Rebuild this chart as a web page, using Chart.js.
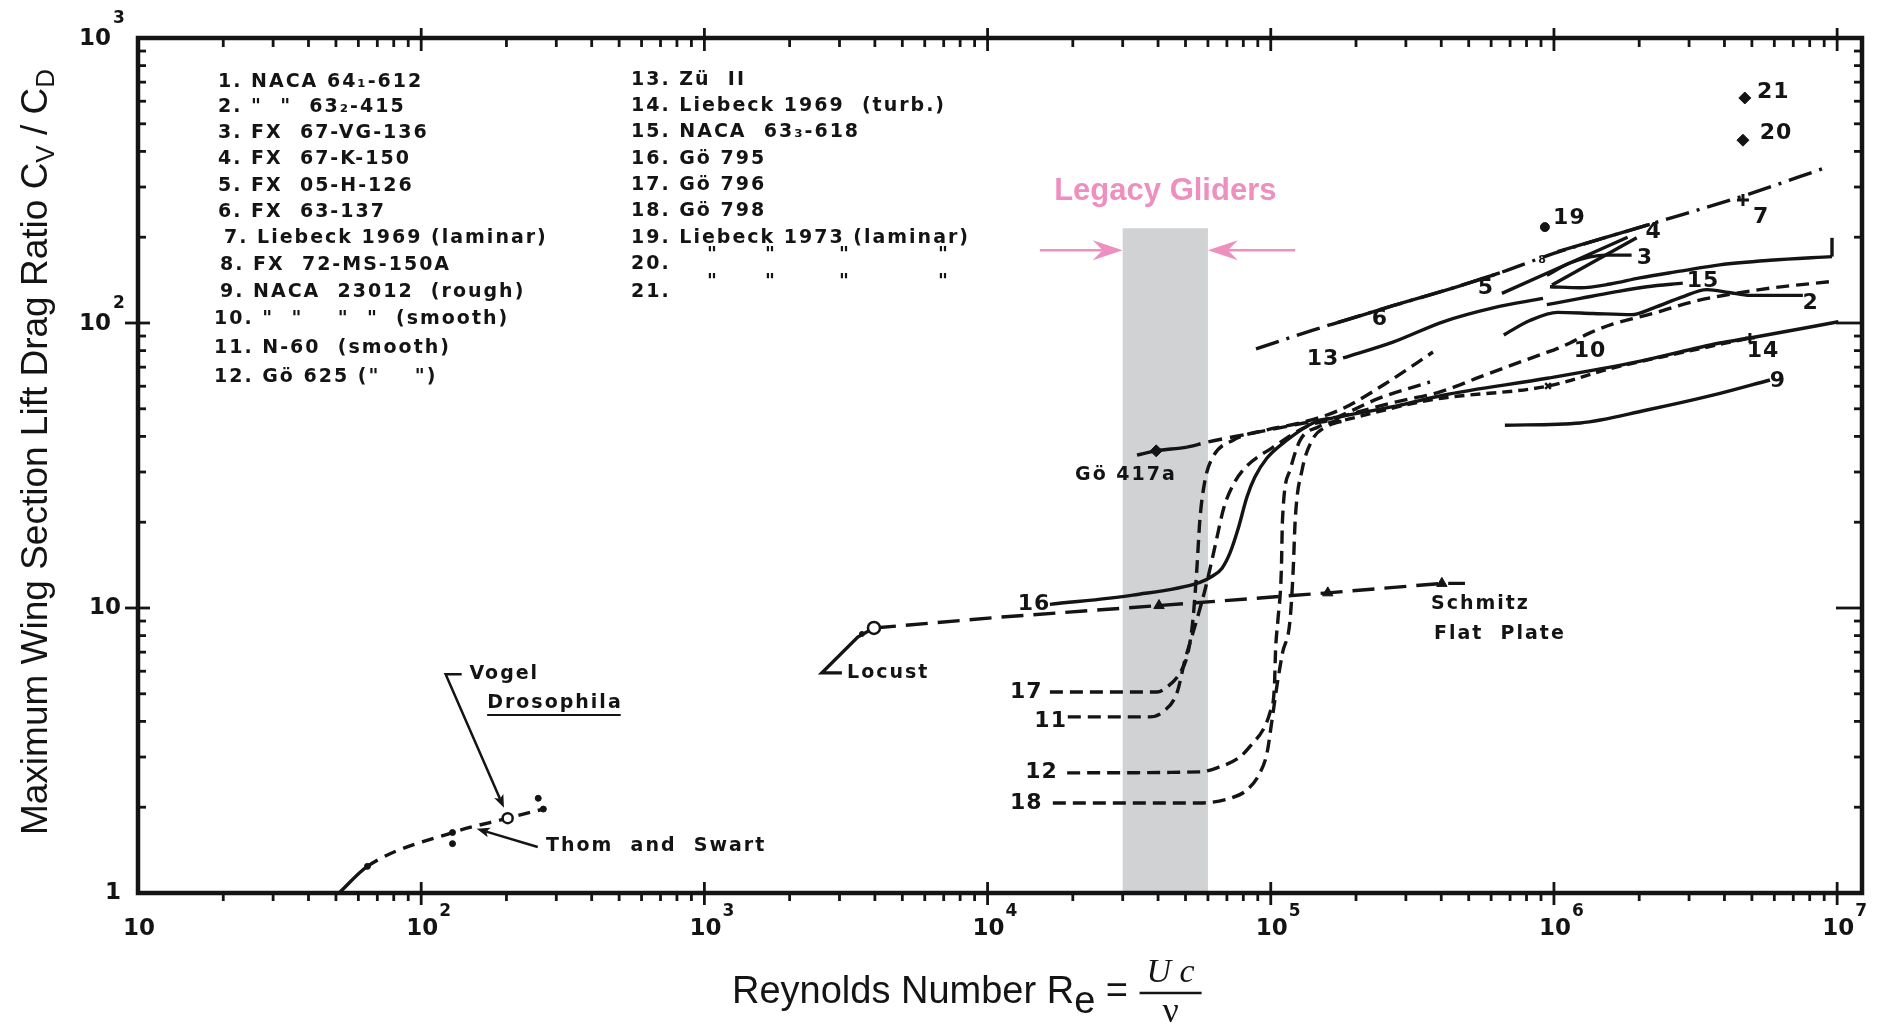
<!DOCTYPE html>
<html>
<head>
<meta charset="utf-8">
<script src="https://cdn.jsdelivr.net/npm/chart.js@4.4.0/dist/chart.umd.min.js"></script>
<style>
  html, body { margin: 0; padding: 0; background: #fff; }
</style>
</head>
<body>
<canvas id="myChart" width="1885" height="1027"></canvas>
<script>
const INK = '#141414';
const PINK = '#ee8fbf';
const BAND = '#d1d2d4';

// Reynolds number and max L/D
const drosRe = [51.3, 64.6, 129, 202, 270];
const drosLD = [1.0, 1.24, 1.63, 1.83, 1.97];
const drosDotRe = [64.6, 129, 129, 259, 270];
const drosDotLD = [1.24, 1.63, 1.49, 2.15, 1.97];
const vogelRe = [202];
const vogelLD = [1.83];

const locustRe = [3060, 2600, 3480, 3970];
const locustLD = [5.92, 5.92, 7.91, 8.51];
const locustDotRe = [3600];
const locustDotLD = [8.11];
const locustRingRe = [3970];
const locustRingLD = [8.51];

const schmitzRe = [3970, 11100, 40300, 159000, 402000, 485000];
const schmitzLD = [8.51, 9.29, 10.2, 11.3, 12.2, 12.2];
const schmitzMarkRe = [40300, 159000, 402000];
const schmitzMarkLD = [10.2, 11.3, 12.2];

const go417Re = [33700, 39400, 50600, 59600, 86500, 127000, 166000];
const go417LD = [34.4, 35.6, 36.7, 38.2, 41.1, 44.3, 46.5];
const go417MarkRe = [39400];
const go417MarkLD = [35.6];

const c16Re = [16600, 32600, 56200, 61900, 67300, 71800, 76500, 82400, 87900, 97000, 114000, 141000, 166000];
const c16LD = [10.3, 11.1, 12.3, 12.9, 13.8, 15.6, 18.8, 24.5, 28.8, 33.6, 38.8, 44.6, 46.5];
const c17Re = [16600, 39600, 43000, 47800, 51000, 53100, 54800, 56200, 58600, 62500, 73600, 97000, 127000, 175000, 253000, 374000];
const c17LD = [5.07, 5.07, 5.28, 5.92, 6.95, 9.08, 13.6, 20.4, 28.1, 33.9, 38.8, 42.2, 44.6, 49.5, 61.1, 79.1];
const c11Re = [19200, 37400, 41600, 46600, 49800, 54800, 59000, 63500, 68400, 73600, 81100, 102000, 137000, 162000, 243000, 365000];
const c11LD = [4.15, 4.15, 4.32, 5.03, 6.58, 9.08, 11.9, 16.4, 22.6, 27.0, 31.0, 36.7, 43.8, 45.7, 54.6, 62.1];
const c12Re = [19100, 56200, 64600, 77800, 86500, 93800, 99300, 103000, 104000, 106000, 109000, 110000, 117000, 127000, 147000, 175000];
const c12LD = [2.64, 2.66, 2.75, 3.00, 3.36, 3.73, 4.29, 5.28, 7.13, 9.08, 13.6, 20.4, 30.5, 38.8, 43.2, 45.7];
const c18Re = [17000, 56200, 71800, 82400, 91600, 97000, 101000, 105000, 110000, 117000, 120000, 122000, 129000, 140000, 159000, 187000];
const c18LD = [2.07, 2.07, 2.15, 2.30, 2.64, 3.10, 4.04, 5.28, 6.95, 9.08, 13.6, 20.4, 30.5, 38.8, 43.5, 45.7];

const c14Re = [166000, 279000, 406000, 960000, 1.96e6, 3.85e6, 4.92e6, 1.01e7];
const c14LD = [46.5, 51.2, 55.8, 64.1, 73.0, 85.1, 88.6, 101];
const c14bRe = [183000, 365000, 953000, 1.61e6, 2.79e6, 4.92e6];
const c14bLD = [45.7, 53.7, 60.1, 69.5, 78.5, 88.6];
const c10Re = [171000, 275000, 396000, 548000, 683000, 893000, 1.08e6, 1.34e6, 1.61e6, 2.24e6, 3.12e6, 5.33e6, 9.66e6];
const c10LD = [46.5, 52.8, 57.3, 64.7, 70.2, 77.3, 83.0, 92.3, 99.1, 108, 119, 131, 140];
const c9Re = [671000, 1.24e6, 2.13e6, 3.64e6, 5.79e6];
const c9LD = [43.8, 44.6, 49.5, 55.8, 63.1];
const c2Re = [665000, 822000, 1.03e6, 1.37e6, 1.88e6, 2.25e6, 2.81e6, 3.47e6, 4.15e6, 4.92e6, 7.57e6];
const c2LD = [90.8, 102, 109, 108, 107, 113, 123, 131, 128, 125, 125];
const c15Re = [944000, 1.24e6, 1.61e6, 2.13e6, 2.85e6];
const c15LD = [116, 122, 128, 134, 138];
const c1Re = [968000, 1.24e6, 1.58e6, 2.01e6, 2.79e6, 3.85e6, 5.79e6, 9.59e6];
const c1LD = [134, 133, 137, 144, 152, 160, 166, 171];
const c1TickRe = [9.59e6, 9.59e6];
const c1TickLD = [171, 199];
const c13Re = [180000, 270000, 406000, 610000, 915000];
const c13LD = [75.4, 85.7, 101, 113, 122];
const c7Re = [88700, 141000, 270000, 466000, 644000, 993000, 2.18e6, 4.65e6, 9.2e6];
const c7LD = [81.1, 94.4, 115, 135, 150, 175, 222, 279, 352];
const c6Re = [162000, 270000, 466000, 644000];
const c6LD = [98.4, 115, 135, 150];
const c4Re = [1.03e6, 2.18e6];
const c4LD = [178, 222];
const c5Re = [655000, 1.82e6];
const c5LD = [127, 200];
const c3Re = [984000, 1.96e6];
const c3LD = [136, 199];
const c3bRe = [944000, 1.15e6, 1.53e6, 1.88e6];
const c3bLD = [147, 163, 173, 173];

const pt19Re = [929000];
const pt19LD = [217];
const pt2021Re = [4.65e6, 4.72e6];
const pt2021LD = [438, 616];
const pt7Re = [4.65e6];
const pt7LD = [270];
const pt14Re = [4.92e6];
const pt14LD = [88.6];
const ptXRe = [953000];
const ptXLD = [60.1];

// shaded "legacy gliders" range
const bandRe = [3e4, 6e4];
const bandLD = [1, 215];

// axis ticks
const xTickValues = [10, 1e2, 1e3, 1e4, 1e5, 1e6, 1e7];
const xTickExps = ['', '2', '3', '4', '5', '6', '7'];
const yTickValues = [1, 10, 100, 1000];
const yTickBases = ['1', '10', '10', '10'];
const yTickExps = ['', '', '2', '3'];

const legendLeft = [
  '1. NACA 64\u2081-612',
  '2. "  "  63\u2082-415',
  '3. FX  67-VG-136',
  '4. FX  67-K-150',
  '5. FX  05-H-126',
  '6. FX  63-137',
  '7. Liebeck 1969 (laminar)',
  '8. FX  72-MS-150A',
  '9. NACA  23012  (rough)',
  '10. "  "    "  "  (smooth)',
  '11. N-60  (smooth)',
  '12. G\u00f6 625 ("    ")'
];
const legendRight = [
  '13. Z\u00fc  II',
  '14. Liebeck 1969  (turb.)',
  '15. NACA  63\u2083-618',
  '16. G\u00f6 795',
  '17. G\u00f6 796',
  '18. G\u00f6 798',
  '19. Liebeck 1973 (laminar)',
  '20.',
  '21.'
];

// [text, Re, L/D, align]
const curveLabels = [
  ['21', 5.21e6, 647, 'left'], ['20', 5.33e6, 464, 'left'], ['7', 5.05e6, 235, 'left'],
  ['19', 993000, 233, 'left'], ['4', 2.25e6, 208, 'center'], ['3', 1.96e6, 169, 'left'],
  ['5', 575000, 132, 'center'], ['6', 243000, 103, 'center'], ['13', 153000, 74.8, 'center'],
  ['15', 3.36e6, 140, 'center'], ['2', 8.07e6, 117, 'center'], ['10', 1.34e6, 79.8, 'center'],
  ['14', 5.47e6, 79.8, 'center'], ['9', 6.18e6, 62.5, 'center'], ['16', 14600, 10.3, 'center'],
  ['17', 13700, 5.07, 'center'], ['11', 16700, 4.02, 'center'], ['12', 15500, 2.66, 'center'],
  ['18', 13700, 2.07, 'center']
];
const nameLabels = [
  ['G\u00f6 417a', 30800, 29.3, 'center'], ['Schmitz', 368000, 10.3, 'left'],
  ['Flat  Plate', 377000, 8.11, 'left'], ['Locust', 3190, 5.92, 'left'],
  ['Vogel', 148, 5.86, 'left'], ['Drosophila', 171, 4.64, 'left'],
  ['Thom  and  Swart', 276, 1.46, 'left']
];
const vogelLeader = [[139, 5.86], [122, 5.86], [196, 1.99]];
const thomArrow = [[258, 1.45], [157, 1.68]];
const pinkArrows = [[[15300, 180], [3e4, 180]], [[122000, 180], [6e4, 180]]];

function pts(re, ld) { return re.map((r, i) => ({ x: r, y: ld[i] })); }

function curve(re, ld, extra) {
  return Object.assign({
    data: pts(re, ld), showLine: true, borderColor: INK, borderWidth: 3.4,
    pointRadius: 0, cubicInterpolationMode: 'monotone', fill: false
  }, extra);
}

function marks(re, ld, style, r, extra) {
  return Object.assign({
    data: pts(re, ld), showLine: false, pointStyle: style, pointRadius: r,
    pointBackgroundColor: INK, pointBorderColor: INK, pointBorderWidth: 1, order: -1
  }, extra);
}

const DASH = [13, 7];

const datasets = [
  curve(drosRe, drosLD, { segment: { borderDash: c => c.p0DataIndex >= 1 ? [12, 8] : [] } }),
  curve(locustRe, locustLD, { cubicInterpolationMode: 'default', tension: 0 }),
  curve(schmitzRe, schmitzLD, { borderDash: [22, 10], tension: 0, cubicInterpolationMode: 'default' }),
  curve(go417Re, go417LD, { segment: { borderDash: c => c.p0DataIndex >= 2 ? [14, 8] : [] } }),
  curve(c16Re, c16LD),
  curve(c17Re, c17LD, { borderDash: DASH }),
  curve(c11Re, c11LD, { borderDash: DASH }),
  curve(c12Re, c12LD, { borderDash: DASH }),
  curve(c18Re, c18LD, { borderDash: DASH }),
  curve(c14Re, c14LD),
  curve(c14bRe, c14bLD, { borderDash: [10, 6] }),
  curve(c10Re, c10LD, { borderDash: DASH }),
  curve(c9Re, c9LD),
  curve(c2Re, c2LD),
  curve(c15Re, c15LD),
  curve(c1Re, c1LD),
  curve(c1TickRe, c1TickLD, { cubicInterpolationMode: 'default', tension: 0 }),
  curve(c13Re, c13LD),
  curve(c7Re, c7LD, { borderDash: [24, 8, 3, 8] }),
  curve(c6Re, c6LD),
  curve(c4Re, c4LD),
  curve(c5Re, c5LD),
  curve(c3Re, c3LD),
  curve(c3bRe, c3bLD),
  marks(drosDotRe, drosDotLD, 'circle', 3),
  marks(vogelRe, vogelLD, 'circle', 5, { pointBackgroundColor: '#fff', pointBorderWidth: 2.5 }),
  marks(locustDotRe, locustDotLD, 'circle', 2.5),
  marks(locustRingRe, locustRingLD, 'circle', 6, { pointBackgroundColor: '#fff', pointBorderWidth: 2.5 }),
  marks(schmitzMarkRe, schmitzMarkLD, 'triangle', 6),
  marks(go417MarkRe, go417MarkLD, 'rectRot', 6),
  marks(pt19Re, pt19LD, 'circle', 4.5),
  marks(pt2021Re, pt2021LD, 'rectRot', 6),
  marks(pt7Re, pt7LD, 'cross', 6, { pointBorderWidth: 3 }),
  marks(pt14Re, pt14LD, 'cross', 5, { pointBorderWidth: 3 }),
  marks(ptXRe, ptXLD, 'crossRot', 4, { pointBorderWidth: 2.5 })
];

function decadeTicks(lo, hi) {
  const major = [], minor = [];
  for (let e = Math.floor(Math.log10(lo)); e <= Math.ceil(Math.log10(hi)); e++) {
    for (let k = 1; k <= 9; k++) {
      const v = k * Math.pow(10, e);
      if (v < lo * 0.999 || v > hi * 1.001) continue;
      (k === 1 ? major : minor).push(v);
    }
  }
  return { major, minor };
}

function drawRich(ctx, parts, x, y) {
  parts.forEach(p => {
    ctx.font = p.font;
    ctx.fillText(p.t, x, y + (p.dy || 0));
    x += ctx.measureText(p.t).width;
  });
  return x;
}

function richWidth(ctx, parts) {
  let w = 0;
  parts.forEach(p => { ctx.font = p.font; w += ctx.measureText(p.t).width; });
  return w;
}

function arrow(ctx, path, len, half, notch) {
  const n = path.length;
  const [xa, ya] = path[n - 2], [xb, yb] = path[n - 1];
  const ang = Math.atan2(yb - ya, xb - xa);
  ctx.beginPath();
  ctx.moveTo(path[0][0], path[0][1]);
  for (let i = 1; i < n - 1; i++) ctx.lineTo(path[i][0], path[i][1]);
  ctx.lineTo(xb - Math.cos(ang) * (len - notch), yb - Math.sin(ang) * (len - notch));
  ctx.stroke();
  ctx.save();
  ctx.translate(xb, yb);
  ctx.rotate(ang);
  ctx.beginPath();
  ctx.moveTo(0, 0);
  ctx.lineTo(-len, -half);
  ctx.lineTo(-len + notch, 0);
  ctx.lineTo(-len, half);
  ctx.closePath();
  ctx.fill();
  ctx.restore();
}

const LETTER = '"DejaVu Sans", sans-serif';
const SANS = '"Liberation Sans", Arial, sans-serif';

const paper = {
  id: 'paper',
  beforeDatasetsDraw(chart) {
    const { ctx, scales: { x, y } } = chart;
    const x0 = x.getPixelForValue(bandRe[0]), x1 = x.getPixelForValue(bandRe[1]);
    const y0 = y.getPixelForValue(bandLD[0]), y1 = y.getPixelForValue(bandLD[1]);
    ctx.save();
    ctx.fillStyle = BAND;
    ctx.fillRect(x0, y1, x1 - x0, y0 - y1);
    ctx.restore();
  },
  afterDatasetsDraw(chart) {
    const { ctx, chartArea: a, scales: { x, y } } = chart;
    const px = v => x.getPixelForValue(v);
    const py = v => y.getPixelForValue(v);
    const seg = (x1, y1, x2, y2) => { ctx.beginPath(); ctx.moveTo(x1, y1); ctx.lineTo(x2, y2); ctx.stroke(); };
    ctx.save();
    ctx.strokeStyle = INK;
    ctx.fillStyle = INK;
    ctx.lineCap = 'butt';

    // frame
    ctx.lineWidth = 4.5;
    ctx.strokeRect(a.left, a.top, a.right - a.left, a.bottom - a.top);

    // ticks
    ctx.lineWidth = 2.8;
    const xt = decadeTicks(x.min, x.max);
    xt.major.forEach(v => {
      if (v <= x.min * 1.001) return;
      const p = px(v);
      seg(p, a.bottom - 11, p, a.bottom + 12);
      seg(p, a.top - 10, p, a.top + 13);
    });
    xt.minor.forEach(v => {
      const p = px(v);
      seg(p, a.bottom, p, a.bottom + 8);
      seg(p, a.top, p, a.top + 9);
    });
    const yt = decadeTicks(y.min, y.max);
    yt.major.forEach(v => {
      if (v <= y.min * 1.001 || v >= y.max * 0.999) return;
      const p = py(v);
      seg(a.left - 13, p, a.left + 12, p);
      seg(a.right - 26, p, a.right, p);
    });
    yt.minor.forEach(v => {
      const p = py(v);
      seg(a.left, p, a.left + 8, p);
      seg(a.right - 8, p, a.right, p);
    });

    // tick labels
    ctx.textBaseline = 'middle';
    xTickValues.forEach((v, i) => {
      const p = px(v);
      ctx.font = 'bold 23px ' + LETTER;
      ctx.textAlign = 'center';
      ctx.fillText('10', p + 1, a.bottom + 36);
      const w = ctx.measureText('10').width;
      if (xTickExps[i]) {
        ctx.font = 'bold 17px ' + LETTER;
        ctx.textAlign = 'left';
        ctx.fillText(xTickExps[i], p + 1 + w / 2 + 1, a.bottom + 19);
      }
    });
    yTickValues.forEach((v, i) => {
      const p = py(v);
      ctx.font = 'bold 23px ' + LETTER;
      ctx.textAlign = 'right';
      if (yTickExps[i]) {
        ctx.fillText(yTickBases[i], a.left - 27, p + 1);
        ctx.font = 'bold 17px ' + LETTER;
        ctx.textAlign = 'left';
        ctx.fillText(yTickExps[i], a.left - 25, p - 19);
      } else {
        ctx.fillText(yTickBases[i], a.left - 17, p);
      }
    });

    // axis titles
    ctx.textAlign = 'left';
    ctx.textBaseline = 'alphabetic';
    const yParts = [
      { t: 'Maximum Wing Section Lift Drag Ratio C', font: '37px ' + SANS },
      { t: 'V', font: '26px ' + SANS, dy: 7 },
      { t: ' / C', font: '37px ' + SANS },
      { t: 'D', font: '26px ' + SANS, dy: 7 }
    ];
    ctx.save();
    ctx.translate(47, 452);
    ctx.rotate(-Math.PI / 2);
    drawRich(ctx, yParts, -richWidth(ctx, yParts) / 2, 0);
    ctx.restore();

    const xParts = [
      { t: 'Reynolds Number R', font: '38px ' + SANS },
      { t: 'e', font: '38px ' + SANS, dy: 10 },
      { t: ' = ', font: '38px ' + SANS }
    ];
    const xEnd = drawRich(ctx, xParts, 732, 1003);
    const fx = xEnd + 32;
    ctx.textAlign = 'center';
    ctx.font = 'italic 34px "Liberation Serif", serif';
    ctx.fillText('U c', fx, 982);
    ctx.font = '36px "Liberation Serif", serif';
    ctx.fillText('\u03bd', fx, 1022);
    ctx.lineWidth = 2.5;
    seg(fx - 31, 993, fx + 31, 993);

    // legend block
    ctx.textAlign = 'left';
    ctx.textBaseline = 'middle';
    ctx.font = 'bold 19px ' + LETTER;
    ctx.letterSpacing = '2px';
    const leftX = [218, 218, 218, 218, 218, 218, 224, 220, 220, 214, 214, 214];
    const leftY = [82, 107, 133, 159, 186, 212, 238, 265, 292, 319, 348, 377];
    legendLeft.forEach((t, i) => ctx.fillText(t, leftX[i], leftY[i]));
    const rightY = [80, 106, 132, 159, 185, 211, 238, 264, 292];
    legendRight.forEach((t, i) => ctx.fillText(t, 631, rightY[i]));
    [255, 282].forEach(yy => [707, 765, 839, 938].forEach(xx => ctx.fillText('"', xx, yy)));

    // curve numbers and names
    ctx.font = 'bold 22px ' + LETTER;
    ctx.letterSpacing = '1px';
    curveLabels.forEach(([t, re, ld, al]) => {
      ctx.textAlign = al;
      ctx.fillText(t, px(re), py(ld));
    });
    ctx.font = 'bold 19px ' + LETTER;
    ctx.letterSpacing = '2px';
    nameLabels.forEach(([t, re, ld, al]) => {
      ctx.textAlign = al;
      ctx.fillText(t, px(re), py(ld));
      if (t === 'Drosophila') {
        ctx.lineWidth = 2;
        const w = ctx.measureText(t).width;
        seg(px(re), py(ld) + 12, px(re) + w - 2, py(ld) + 12);
      }
    });
    ctx.font = 'bold 11px ' + LETTER;
    ctx.textAlign = 'center';
    ctx.fillText('8', px(915000), py(166));
    ctx.letterSpacing = '0px';

    // leader arrows
    ctx.lineWidth = 2.5;
    arrow(ctx, vogelLeader.map(([r, l]) => [px(r), py(l)]), 13, 5, 3);
    arrow(ctx, thomArrow.map(([r, l]) => [px(r), py(l)]), 13, 5, 3);

    // legacy gliders
    ctx.strokeStyle = PINK;
    ctx.fillStyle = PINK;
    ctx.lineWidth = 2.5;
    pinkArrows.forEach(p => arrow(ctx, p.map(([r, l]) => [px(r), py(l)]), 30, 10, 10));
    ctx.font = 'bold 31px ' + SANS;
    ctx.textAlign = 'center';
    ctx.textBaseline = 'alphabetic';
    ctx.fillText('Legacy Gliders', px(Math.sqrt(bandRe[0] * bandRe[1])), py(270));
    ctx.restore();
  }
};

new Chart(document.getElementById('myChart'), {
  type: 'scatter',
  data: { datasets },
  options: {
    responsive: false,
    devicePixelRatio: 1,
    animation: false,
    layout: { padding: { left: 138, right: 23, top: 38, bottom: 134 } },
    scales: {
      x: { type: 'logarithmic', min: 10, max: 1.224e7, display: false },
      y: { type: 'logarithmic', min: 1, max: 1000, display: false }
    },
    plugins: { legend: { display: false }, tooltip: { enabled: false } }
  },
  plugins: [paper]
});
</script>
</body>
</html>
